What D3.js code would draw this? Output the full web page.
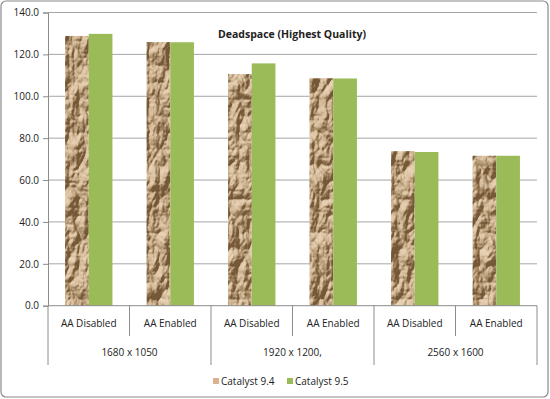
<!DOCTYPE html>
<html><head><meta charset="utf-8">
<script src="https://cdn.jsdelivr.net/npm/d3@7"></script>
<style>body{margin:0;background:#fff}svg{display:block}text{font-family:"Open Sans",sans-serif;fill:#222}</style>
</head><body>
<script>
const categories = ["AA Disabled","AA Enabled","AA Disabled","AA Enabled","AA Disabled","AA Enabled"];
const groups = ["1680 x 1050","1920 x 1200,","2560 x 1600"];
const series = ["Catalyst 9.4","Catalyst 9.5"];
const cat94 = [128.8,125.9,110.6,108.6,73.8,71.6];
const cat95 = [129.8,125.8,115.7,108.5,73.4,71.6];
const yTicks = [0,20,40,60,80,100,120,140];

(function(){
const W=550,H=399;
const svg=d3.select("body").append("svg").attr("width",W).attr("height",H);
const defs=svg.append("defs");
const f=defs.append("filter").attr("id","crumple").attr("x",0).attr("y",0).attr("width","100%").attr("height","100%");
f.append("feTurbulence").attr("type","turbulence").attr("baseFrequency","0.05 0.03").attr("numOctaves",4).attr("seed",11).attr("result","noise");
const dl=f.append("feDiffuseLighting").attr("in","noise").attr("lighting-color","#ffffff").attr("surfaceScale",8).attr("result","light");
dl.append("feDistantLight").attr("azimuth",235).attr("elevation",32);
f.append("feComponentTransfer").attr("in","light").attr("result","lt")
  .call(g=>{
    g.append("feFuncR").attr("type","table").attr("tableValues","0.18 0.38 0.62 0.82");
    g.append("feFuncG").attr("type","table").attr("tableValues","0.10 0.25 0.46 0.65");
    g.append("feFuncB").attr("type","table").attr("tableValues","0.04 0.13 0.29 0.47");
  });
f.append("feComposite").attr("in","lt").attr("in2","SourceGraphic").attr("operator","in");
const pat=defs.append("pattern").attr("id","paper").attr("patternUnits","userSpaceOnUse").attr("width",600).attr("height",400);
pat.append("rect").attr("width",600).attr("height",400).attr("fill","#c9a67c").attr("filter","url(#crumple)");

svg.append("rect").attr("x",1).attr("y",1).attr("width",547).attr("height",396).attr("rx",5)
  .attr("fill","#fff").attr("stroke","#8a8a8a").attr("stroke-width",1.2);

const pl=48,pr=537,pt=12.5,pb=305.7;
const x=d3.scaleBand().domain(d3.range(categories.length)).range([pl,pr]).paddingInner(0).paddingOuter(0);
const y=d3.scaleLinear().domain([0,140]).range([pb,pt]);
const inner=d3.scaleBand().domain([0,1]).range([0,x.bandwidth()]).paddingInner(0).paddingOuter(0.72);

svg.append("g").selectAll("line").data(yTicks.filter(d=>d>0)).join("line")
  .attr("x1",pl).attr("x2",pr).attr("y1",d=>y(d)).attr("y2",d=>y(d))
  .attr("stroke","#a6a6a6").attr("stroke-width",1);

const ya=svg.append("g").attr("transform",`translate(${pl},0)`)
  .call(d3.axisLeft(y).tickValues(yTicks).tickFormat(d3.format(".1f")).tickSize(5).tickPadding(4));
ya.select(".domain").attr("stroke","#8c8c8c");
ya.selectAll(".tick line").attr("stroke","#8c8c8c");
ya.selectAll("text").style("font-size","10px").style("fill","#222").style("font-family","'Open Sans',sans-serif");

const vals=[cat94,cat95];
const fills=["url(#paper)","#9bbb59"];
vals.forEach((arr,si)=>{
  svg.append("g").selectAll("rect").data(arr).join("rect")
    .attr("x",(d,i)=>x(i)+inner(si)).attr("width",inner.bandwidth())
    .attr("y",d=>y(d)).attr("height",d=>pb-y(d)).attr("fill",fills[si]);
});

svg.append("line").attr("x1",pl).attr("x2",pr).attr("y1",pb).attr("y2",pb).attr("stroke","#8c8c8c");
const bounds=d3.range(categories.length+1);
svg.append("g").selectAll("line").data(bounds).join("line")
  .attr("x1",i=>i<categories.length?x(i):pr).attr("x2",i=>i<categories.length?x(i):pr)
  .attr("y1",pb).attr("y2",i=>i%2===0?365:336).attr("stroke","#8c8c8c");
svg.append("g").selectAll("text").data(categories).join("text")
  .attr("x",(d,i)=>x(i)+x.bandwidth()/2).attr("y",327).attr("text-anchor","middle")
  .style("font-size","10px").text(d=>d);
svg.append("g").selectAll("text").data(groups).join("text")
  .attr("x",(d,i)=>x(i*2)+x.bandwidth()).attr("y",356).attr("text-anchor","middle")
  .style("font-size","10px").text(d=>d);

svg.append("text").attr("x",292).attr("y",38).attr("text-anchor","middle")
  .style("font-size","10.5px").style("font-weight","bold").text("Deadspace (Highest Quality)");

const lg=svg.append("g");
const lx=[213,287];
const lcol=["#d9b38f","#9bbb59"];
series.forEach((s,i)=>{
  lg.append("rect").attr("x",lx[i]).attr("y",378).attr("width",6).attr("height",6).attr("fill",lcol[i]);
  lg.append("text").attr("x",lx[i]+8).attr("y",385).style("font-size","10px").text(s);
});
})();
</script>
</body></html>
